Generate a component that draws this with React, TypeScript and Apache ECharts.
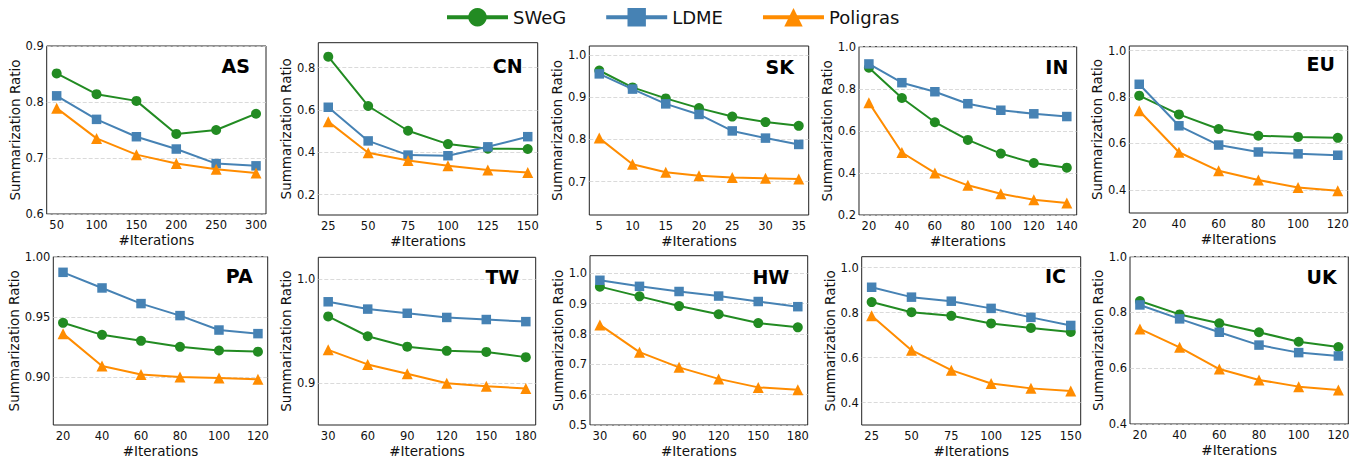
import React, { useEffect, useRef } from "react";
import * as echarts from "echarts";

// ---- data ----
const seriesNames = ["SWeG", "LDME", "Poligras"];
const panelNames = ["AS", "CN", "SK", "IN", "EU", "PA", "TW", "HW", "IC", "UK"];

const asIter = [50, 100, 150, 200, 250, 300];
const asSWeG = [0.851, 0.814, 0.802, 0.743, 0.75, 0.779];
const asLDME = [0.811, 0.769, 0.738, 0.716, 0.69, 0.686];
const asPoligras = [0.789, 0.735, 0.706, 0.69, 0.68, 0.673];

const cnIter = [25, 50, 75, 100, 125, 150];
const cnSWeG = [0.852, 0.619, 0.502, 0.439, 0.417, 0.416];
const cnLDME = [0.613, 0.454, 0.387, 0.384, 0.426, 0.474];
const cnPoligras = [0.545, 0.398, 0.361, 0.337, 0.317, 0.305];

const skIter = [5, 10, 15, 20, 25, 30, 35];
const skSWeG = [0.963, 0.923, 0.897, 0.874, 0.854, 0.841, 0.832];
const skLDME = [0.955, 0.919, 0.884, 0.859, 0.82, 0.803, 0.788];
const skPoligras = [0.803, 0.741, 0.722, 0.714, 0.71, 0.708, 0.706];

const inIter = [20, 40, 60, 80, 100, 120, 140];
const inSWeG = [0.9, 0.756, 0.641, 0.557, 0.492, 0.447, 0.425];
const inLDME = [0.918, 0.829, 0.786, 0.729, 0.698, 0.681, 0.668];
const inPoligras = [0.734, 0.497, 0.4, 0.341, 0.301, 0.272, 0.257];

const euIter = [20, 40, 60, 80, 100, 120];
const euSWeG = [0.806, 0.725, 0.662, 0.633, 0.628, 0.624];
const euLDME = [0.855, 0.676, 0.593, 0.563, 0.555, 0.549];
const euPoligras = [0.741, 0.562, 0.482, 0.442, 0.41, 0.396];

const paIter = [20, 40, 60, 80, 100, 120];
const paSWeG = [0.945, 0.935, 0.93, 0.925, 0.922, 0.921];
const paLDME = [0.987, 0.974, 0.961, 0.951, 0.939, 0.936];
const paPoligras = [0.936, 0.909, 0.902, 0.9, 0.899, 0.898];

const twIter = [30, 60, 90, 120, 150, 180];
const twSWeG = [0.964, 0.945, 0.935, 0.931, 0.93, 0.925];
const twLDME = [0.978, 0.971, 0.967, 0.963, 0.961, 0.959];
const twPoligras = [0.932, 0.918, 0.909, 0.9, 0.897, 0.895];

const hwIter = [30, 60, 90, 120, 150, 180];
const hwSWeG = [0.956, 0.924, 0.892, 0.865, 0.836, 0.822];
const hwLDME = [0.977, 0.957, 0.94, 0.925, 0.907, 0.89];
const hwPoligras = [0.83, 0.74, 0.69, 0.652, 0.624, 0.616];

const icIter = [25, 50, 75, 100, 125, 150];
const icSWeG = [0.847, 0.802, 0.786, 0.752, 0.732, 0.714];
const icLDME = [0.913, 0.869, 0.851, 0.819, 0.779, 0.743];
const icPoligras = [0.786, 0.633, 0.544, 0.485, 0.463, 0.451];

const ukIter = [20, 40, 60, 80, 100, 120];
const ukSWeG = [0.841, 0.793, 0.761, 0.729, 0.695, 0.676];
const ukLDME = [0.827, 0.777, 0.729, 0.683, 0.656, 0.644];
const ukPoligras = [0.741, 0.675, 0.597, 0.558, 0.534, 0.522];

// y tick labels per panel
const asYTicks = [0.6, 0.7, 0.8, 0.9];
const cnYTicks = [0.2, 0.4, 0.6, 0.8];
const skYTicks = [0.7, 0.8, 0.9, 1.0];
const inYTicks = [0.2, 0.4, 0.6, 0.8, 1.0];
const euYTicks = [0.4, 0.6, 0.8, 1.0];
const paYTicks = [0.9, 0.95, 1.0];
const twYTicks = [0.9, 1.0];
const hwYTicks = [0.5, 0.6, 0.7, 0.8, 0.9, 1.0];
const icYTicks = [0.4, 0.6, 0.8, 1.0];
const ukYTicks = [0.4, 0.6, 0.8, 1.0];

const iters = [asIter, cnIter, skIter, inIter, euIter, paIter, twIter, hwIter, icIter, ukIter];
const sweg = [asSWeG, cnSWeG, skSWeG, inSWeG, euSWeG, paSWeG, twSWeG, hwSWeG, icSWeG, ukSWeG];
const ldme = [asLDME, cnLDME, skLDME, inLDME, euLDME, paLDME, twLDME, hwLDME, icLDME, ukLDME];
const poligras = [asPoligras, cnPoligras, skPoligras, inPoligras, euPoligras, paPoligras, twPoligras, hwPoligras, icPoligras, ukPoligras];
const yTicks = [asYTicks, cnYTicks, skYTicks, inYTicks, euYTicks, paYTicks, twYTicks, hwYTicks, icYTicks, ukYTicks];
const yDecimals = [1, 1, 1, 1, 1, 2, 1, 1, 1, 1];

// ---- layout / style ----
const yLimits = [
  [0.6, 0.9], [0.104, 0.918], [0.621, 1.021], [0.2, 1.0], [0.3, 1.02],
  [0.86, 1.0], [0.86, 1.0206], [0.5, 1.058], [0.3, 1.049], [0.4, 1.0],
];
// [left, top, right, bottom] in px
const boxes = [
  [46.7, 46, 266, 214], [318.3, 42.7, 537.7, 215], [589.3, 46, 808.7, 215], [859, 46.7, 1076.7, 215], [1129.3, 46, 1347.7, 213],
  [53.3, 256.7, 267.7, 425], [318.3, 257.3, 535.7, 426.7], [590, 255.7, 807.7, 425], [861.7, 256.7, 1080.7, 426], [1130, 256.7, 1348.3, 424],
];
const yNameGaps = [25, 22, 23, 23, 23, 32, 24, 24, 23, 24];
// title right edge x, cap top y
const titlePos = [
  [250, 60], [522.7, 60], [794, 61.7], [1068.3, 61], [1335, 58.3],
  [252.7, 270], [519.3, 271.7], [789.3, 271.7], [1066, 270], [1336.7, 271.7],
];
const colors = ["#228B22", "#4682B4", "#FF8C00"];
const symbols = ["circle", "rect", "triangle"];
const symbolSizes = [10, 9.5, 11];
const FONT = "DejaVu Sans";
const W = 1359;
const H = 459;

function buildOption() {
  const grid: any[] = [];
  const xAxis: any[] = [];
  const yAxis: any[] = [];
  const series: any[] = [];
  const title: any[] = [];
  panelNames.forEach((name, i) => {
    const [l, t, r, b] = boxes[i];
    grid.push({ left: l, top: t, width: r - l, height: b - t, show: true, borderColor: "#222", borderWidth: 1, backgroundColor: "transparent" });
    const xs = iters[i];
    const span = xs[xs.length - 1] - xs[0];
    xAxis.push({
      type: "value",
      gridIndex: i,
      min: xs[0] - span * 0.05,
      max: xs[xs.length - 1] + span * 0.05,
      axisLine: { show: false },
      axisTick: { show: false, customValues: xs },
      splitLine: { show: false },
      axisLabel: { customValues: xs, margin: 5, fontSize: 11.5, color: "#111", fontFamily: FONT },
      name: "#Iterations",
      nameLocation: "middle",
      nameGap: 19,
      nameTextStyle: { fontSize: 13.5, color: "#111", fontFamily: FONT },
    });
    const dec = yDecimals[i];
    yAxis.push({
      type: "value",
      gridIndex: i,
      min: yLimits[i][0],
      max: yLimits[i][1],
      axisLine: { show: false },
      axisTick: { show: false, customValues: yTicks[i] },
      splitLine: { show: true, lineStyle: { color: "#d0d0d0", type: [4, 2], width: 0.8 } },
      axisLabel: {
        customValues: yTicks[i],
        margin: 3,
        fontSize: 11.5,
        color: "#111",
        fontFamily: FONT,
        formatter: (v: number) => v.toFixed(dec),
      },
      name: "Summarization Ratio",
      nameLocation: "middle",
      nameGap: yNameGaps[i],
      nameTextStyle: { fontSize: 13.5, color: "#111", fontFamily: FONT },
    });
    const vals = [sweg[i], ldme[i], poligras[i]];
    vals.forEach((v, k) => {
      series.push({
        type: "line",
        name: seriesNames[k],
        xAxisIndex: i,
        yAxisIndex: i,
        data: xs.map((x, j) => [x, v[j]]),
        symbol: symbols[k],
        symbolSize: symbolSizes[k],
        color: colors[k],
        lineStyle: { width: 2, color: colors[k] },
        itemStyle: { color: colors[k] },
        z: 2 + k,
      });
    });
    title.push({
      text: name,
      right: W - titlePos[i][0],
      top: titlePos[i][1] - 4,
      padding: 0,
      textStyle: { fontSize: 19, fontWeight: "bold", fontFamily: FONT, color: "#000" },
    });
  });
  return {
    animation: false,
    backgroundColor: "#fff",
    title,
    legend: {
      data: seriesNames,
      left: 445,
      top: 8,
      itemWidth: 61,
      itemHeight: 23,
      itemGap: 38,
      padding: 0,
      lineStyle: { width: 4 },
      textStyle: { fontSize: 18, fontFamily: FONT, color: "#111" },
    },
    grid,
    xAxis,
    yAxis,
    series,
  };
}

export default function App() {
  const ref = useRef<HTMLDivElement>(null);
  useEffect(() => {
    if (!ref.current) return;
    const chart = echarts.init(ref.current, undefined, { renderer: "svg" });
    chart.setOption(buildOption() as any);
    return () => chart.dispose();
  }, []);
  return <div ref={ref} style={{ position: "absolute", left: 0, top: 0, width: W, height: H }} />;
}
